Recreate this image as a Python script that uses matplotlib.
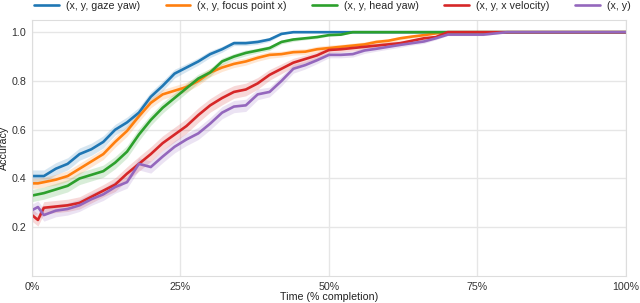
import numpy as np
import matplotlib
matplotlib.use("Agg")
import matplotlib.pyplot as plt
import seaborn as sns
from matplotlib.ticker import PercentFormatter

sns.set_style("whitegrid")
plt.rcParams['font.family'] = ['Liberation Sans', 'DejaVu Sans']

# time (% completion)
t = [0, 1, 2, 4, 6, 8, 10, 12, 14, 16, 18, 20, 22, 24, 26, 28, 30, 32, 34, 36, 38, 40,
     42, 44, 46, 48, 50, 52, 54, 56, 58, 60, 62, 64, 66, 68, 70, 72, 74, 76, 78, 80, 100]

gaze_yaw = [0.41, 0.41, 0.41, 0.44, 0.46, 0.50, 0.52, 0.55, 0.60, 0.63, 0.67, 0.735, 0.78,
            0.83, 0.855, 0.88, 0.91, 0.93, 0.955, 0.955, 0.96, 0.97, 0.993, 1.0, 1.0, 1.0,
            1.0, 1.0, 1.0, 1.0, 1.0, 1.0, 1.0, 1.0, 1.0, 1.0, 1.0, 1.0, 1.0, 1.0, 1.0, 1.0, 1.0]
focus_x = [0.38, 0.38, 0.385, 0.395, 0.41, 0.44, 0.47, 0.50, 0.55, 0.595, 0.655, 0.71, 0.745,
           0.76, 0.775, 0.80, 0.835, 0.855, 0.87, 0.88, 0.895, 0.907, 0.91, 0.918, 0.92, 0.93,
           0.935, 0.94, 0.945, 0.95, 0.96, 0.965, 0.975, 0.982, 0.988, 0.995, 1.0, 1.0, 1.0,
           1.0, 1.0, 1.0, 1.0]
head_yaw = [0.33, 0.335, 0.34, 0.355, 0.37, 0.40, 0.415, 0.43, 0.465, 0.51, 0.58, 0.64, 0.69,
            0.73, 0.77, 0.81, 0.835, 0.88, 0.90, 0.915, 0.925, 0.935, 0.96, 0.97, 0.975, 0.98,
            0.988, 0.99, 1.0, 1.0, 1.0, 1.0, 1.0, 1.0, 1.0, 1.0, 1.0, 1.0, 1.0, 1.0, 1.0, 1.0, 1.0]
x_velocity = [0.25, 0.23, 0.28, 0.285, 0.29, 0.30, 0.325, 0.35, 0.375, 0.42, 0.46, 0.50, 0.545,
              0.58, 0.615, 0.66, 0.70, 0.73, 0.755, 0.765, 0.79, 0.825, 0.85, 0.875, 0.89, 0.905,
              0.927, 0.93, 0.935, 0.94, 0.945, 0.95, 0.955, 0.965, 0.975, 0.98, 1.0, 1.0, 1.0,
              1.0, 1.0, 1.0, 1.0]
xy_only = [0.27, 0.283, 0.25, 0.268, 0.275, 0.29, 0.315, 0.335, 0.365, 0.385, 0.46, 0.447, 0.49,
           0.53, 0.56, 0.585, 0.625, 0.67, 0.695, 0.70, 0.745, 0.755, 0.80, 0.85, 0.865, 0.885,
           0.907, 0.907, 0.91, 0.925, 0.932, 0.94, 0.948, 0.955, 0.962, 0.975, 0.99, 0.99, 0.99,
           0.99, 0.995, 1.0, 1.0]

# half-width of the shaded band
gaze_err = [0.025, 0.025, 0.025, 0.025, 0.025, 0.025, 0.025, 0.025, 0.022, 0.022, 0.022, 0.02,
            0.02, 0.018, 0.016, 0.015, 0.014, 0.012, 0.01, 0.01, 0.01, 0.008, 0.004, 0, 0, 0, 0,
            0, 0, 0, 0, 0, 0, 0, 0, 0, 0, 0, 0, 0, 0, 0, 0]
focus_err = [0.02, 0.02, 0.02, 0.022, 0.022, 0.022, 0.022, 0.022, 0.022, 0.022, 0.022, 0.02,
             0.02, 0.02, 0.02, 0.018, 0.018, 0.016, 0.015, 0.015, 0.014, 0.014, 0.012, 0.012,
             0.012, 0.012, 0.012, 0.01, 0.01, 0.01, 0.01, 0.008, 0.008, 0.006, 0.006, 0.004, 0,
             0, 0, 0, 0, 0, 0]
head_err = [0.025, 0.025, 0.025, 0.025, 0.025, 0.025, 0.025, 0.025, 0.025, 0.025, 0.025, 0.022,
            0.022, 0.02, 0.02, 0.018, 0.016, 0.014, 0.012, 0.012, 0.01, 0.01, 0.008, 0.008,
            0.006, 0.006, 0.004, 0.004, 0, 0, 0, 0, 0, 0, 0, 0, 0, 0, 0, 0, 0, 0, 0]
vel_err = [0.025, 0.025, 0.025, 0.025, 0.025, 0.025, 0.025, 0.025, 0.028, 0.028, 0.03, 0.03,
           0.03, 0.03, 0.03, 0.03, 0.028, 0.028, 0.026, 0.026, 0.024, 0.022, 0.02, 0.018,
           0.016, 0.014, 0.012, 0.012, 0.012, 0.012, 0.01, 0.01, 0.01, 0.008, 0.006, 0.006, 0,
           0, 0, 0, 0, 0, 0]
xy_err = [0.025, 0.025, 0.025, 0.025, 0.025, 0.025, 0.025, 0.025, 0.025, 0.025, 0.025, 0.025,
          0.025, 0.025, 0.025, 0.025, 0.025, 0.025, 0.025, 0.025, 0.022, 0.02, 0.02, 0.018,
          0.016, 0.014, 0.012, 0.012, 0.012, 0.012, 0.01, 0.01, 0.01, 0.008, 0.008, 0.006,
          0.004, 0.004, 0.004, 0.004, 0.003, 0, 0]

labels = ['(x, y, gaze yaw)', '(x, y, focus point x)', '(x, y, head yaw)',
          '(x, y, x velocity)', '(x, y)']
series = [gaze_yaw, focus_x, head_yaw, x_velocity, xy_only]
errors = [gaze_err, focus_err, head_err, vel_err, xy_err]
colors = ['#1f77b4', '#ff7f0e', '#2ca02c', '#d62728', '#9467bd']

fs = 7.7

fig = plt.figure(figsize=(6.4, 3.03), dpi=100)
ax = fig.add_axes([0.05, 0.089, 0.928, 0.845])

for vals, err, clr, lab in zip(series, errors, colors, labels):
    v = np.array(vals)
    e = np.array(err)
    ax.fill_between(t, v - e, np.minimum(v + e, 1.0), color=clr, alpha=0.18, linewidth=0)
    ax.plot(t, v, color=clr, linewidth=1.9, label=lab)

ax.set_xlim(0, 100)
ax.set_ylim(0.0, 1.05)
ax.set_xticks([0, 25, 50, 75, 100])
ax.set_yticks([0.2, 0.4, 0.6, 0.8, 1.0])
ax.xaxis.set_major_formatter(PercentFormatter(decimals=0))
ax.tick_params(axis='x', labelsize=fs, pad=1, colors='#333333')
ax.tick_params(axis='y', labelsize=fs, pad=0.5, colors='#333333')
ax.set_xlabel('Time (% completion)', fontsize=fs, color='#222222')
ax.set_ylabel('Accuracy', fontsize=fs, color='#222222')
ax.xaxis.set_label_coords(0.5, -0.064)
ax.yaxis.set_label_coords(-0.038, 0.5)
for sp in ax.spines.values():
    sp.set_color('#dddddd')
ax.grid(color='#e6e6e6', linewidth=1)

fig.legend(loc='upper left', bbox_to_anchor=(0.052, 1.0), ncol=5, frameon=False,
           fontsize=fs, handlelength=2.3, columnspacing=2.4, handletextpad=0.65,
           borderpad=0.1, borderaxespad=0)

fig.savefig('out.png', dpi=100)
